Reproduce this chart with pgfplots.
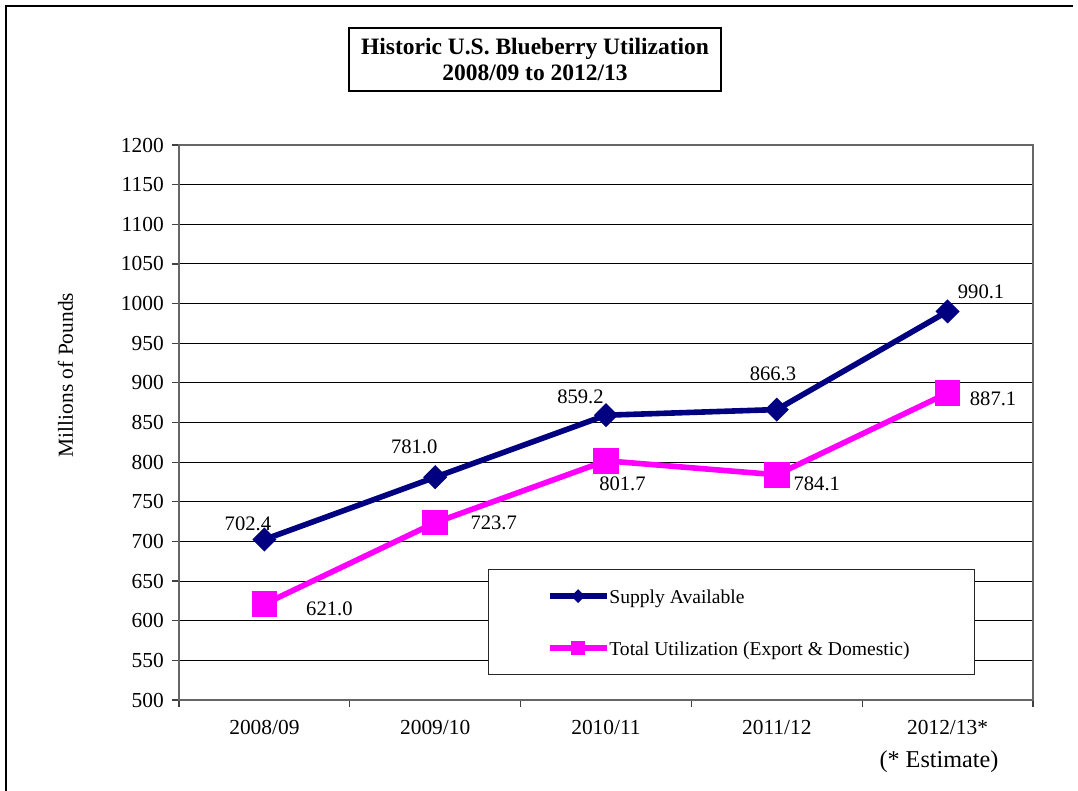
\documentclass[border=0pt]{standalone}
\usepackage{fontspec}
\setmainfont{Liberation Serif}
\usepackage{pgfplots}
\pgfplotsset{compat=1.18}
\definecolor{navyc}{HTML}{000080}
\definecolor{magc}{HTML}{FF00FF}
\begin{document}
\fontsize{10.3}{12}\selectfont
\begin{tikzpicture}
\useasboundingbox (0,0) rectangle (539pt,-395.5pt);
\draw[line width=0.9pt] (3pt,-396pt) -- (3pt,-3pt) -- (536.5pt,-3pt);
\node[draw, line width=0.6pt, minimum width=186pt, minimum height=31.5pt, align=center, inner sep=0pt,
  font=\fontsize{11.75}{13}\selectfont\bfseries] at (267.5pt,-29.75pt)
  {Historic U.S. Blueberry Utilization\\2008/09 to 2012/13};
\node[font=\fontsize{12.1}{14}\selectfont] at (469.5pt,-381pt) {(* Estimate)};
\begin{axis}[
  at={(89.5pt,-350pt)}, anchor=south west,
  scale only axis, width=427pt, height=277.5pt,
  xmin=-0.5, xmax=4.5, ymin=500, ymax=1200,
  ytick={500,550,...,1200},
  xtick={0,1,2,3,4},
  xticklabels={2008/09,2009/10,2010/11,2011/12,2012/13*},
  minor xtick={-0.5,0.5,...,4.5},
  tick align=outside, xtick pos=bottom, ytick pos=left,
  major tick length=3.5pt, minor tick length=3.5pt,
  major x tick style={draw=none},
  tick style={black!75, line width=0.6pt},
  ymajorgrids, major grid style={black, line width=0.5pt},
  axis line style={draw=black!60, line width=0.9pt},
  ticklabel style={font=\fontsize{10.7}{12}\selectfont},
  xticklabel style={yshift=-3pt},
  yticklabel style={xshift=-0.5pt},
  /pgf/number format/assume math mode=true,
  /pgf/number format/1000 sep={},
  ylabel={Millions of Pounds},
  ylabel style={at={(axis description cs:-0.1329,0.5856)}, anchor=center, font=\fontsize{10.7}{12}\selectfont},
  clip=false,
  legend style={at={(axis description cs:0.3618,0.236)}, anchor=north west,
    draw=black!85, line width=0.6pt, fill=white,
    inner xsep=0pt, inner ysep=9.7pt, row sep=18.9pt,
    font=\fontsize{9.8}{11}\selectfont,
    nodes={inner xsep=0pt, inner ysep=0pt, text height=7.1pt, text depth=0pt}},
  legend cell align=left,
  legend image code/.code={%
    \path[draw=none, fill=none] (0pt,0pt) -- (30.5pt,0pt);
    \draw[#1, mark repeat=2, mark phase=2, every mark/.append style={scale=0.55}]
      plot coordinates {(30.5pt,0pt) (44.75pt,0pt) (59pt,0pt)};},
]
\addplot[navyc, line width=2.8pt, mark=square*, mark size=4pt,
  mark options={rotate=45, line width=0.5pt, fill=navyc}]
  coordinates {(0,702.4) (1,781.0) (2,859.2) (3,866.3) (4,990.1)};
\addlegendentry{\makebox[182.5pt][l]{Supply Available}}
\addplot[magc, line width=2.8pt, mark=square*, mark size=6.15pt,
  mark options={line width=0.5pt, fill=magc}]
  coordinates {(0,621.0) (1,723.7) (2,801.7) (3,784.1) (4,887.1)};
\addlegendentry{\makebox[182.5pt][l]{Total Utilization (Export \& Domestic)}}
\node[xshift=-8.25pt, yshift=8pt] at (axis cs:0,702.4) {702.4};
\node[xshift=-10.5pt, yshift=15pt] at (axis cs:1,781.0) {781.0};
\node[xshift=-12.75pt, yshift=9.35pt] at (axis cs:2,859.2) {859.2};
\node[xshift=-1.9pt, yshift=18pt] at (axis cs:3,866.3) {866.3};
\node[xshift=16.75pt, yshift=10pt] at (axis cs:4,990.1) {990.1};
\node[xshift=32.5pt, yshift=-2.25pt] at (axis cs:0,621.0) {621.0};
\node[xshift=29.25pt, yshift=0pt] at (axis cs:1,723.7) {723.7};
\node[xshift=8.25pt, yshift=-11.6pt] at (axis cs:2,801.7) {801.7};
\node[xshift=20pt, yshift=-4.65pt] at (axis cs:3,784.1) {784.1};
\node[xshift=22.75pt, yshift=-3pt] at (axis cs:4,887.1) {887.1};
\end{axis}
\end{tikzpicture}
\end{document}
